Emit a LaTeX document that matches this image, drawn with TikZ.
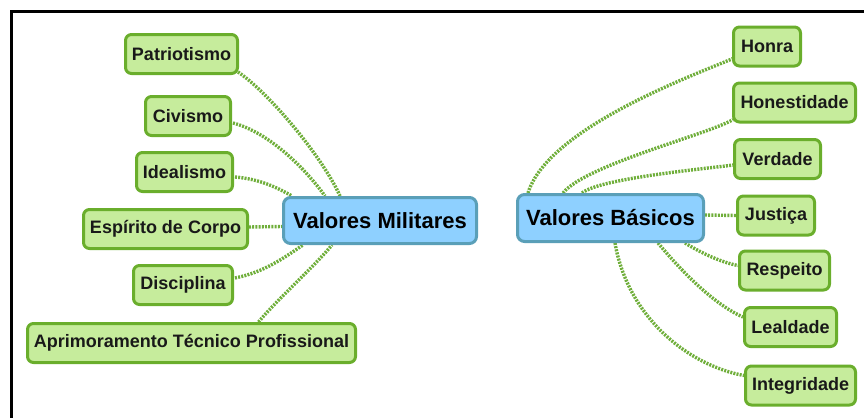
\documentclass[tikz,border=0pt]{standalone}
\usepackage{fontspec}
\setmainfont{Liberation Sans}
\usetikzlibrary{backgrounds}
\definecolor{leaffill}{HTML}{C6EC9C}
\definecolor{leafdraw}{HTML}{6AAE2C}
\definecolor{hubfill}{HTML}{8ED0FF}
\definecolor{hubdraw}{HTML}{5A9FB8}
\definecolor{linkcol}{HTML}{6FAE3A}
\begin{document}
\begin{tikzpicture}[x=1pt,y=-1pt,
  leaf/.style={draw=leafdraw,fill=leaffill,line width=3pt,rounded corners=6pt,
    minimum height=39pt,inner sep=0pt,font=\bfseries\fontsize{18}{20}\selectfont,text=black!90},
  hub/.style={draw=hubdraw,fill=hubfill,line width=3pt,rounded corners=7pt,
    inner sep=0pt,font=\bfseries\fontsize{22}{24}\selectfont,text=black},
  link/.style={draw=linkcol,line width=3.4pt,dash pattern=on 2pt off 1.2pt},
  frameline/.style={line width=3pt,draw=black}]
\useasboundingbox (0,0) rectangle (864,418);
\coordinate (f1) at (864,11.5);
\coordinate (f2) at (11.5,11.5);
\coordinate (f3) at (11.5,418);
\draw[frameline] (f1) -- (f2) -- (f3);

% hubs
\node[hub,minimum width=193pt,minimum height=46pt] (vm) at (380,220.5) {Valores Militares};
\node[hub,minimum width=186pt,minimum height=47pt] (vb) at (610.5,218) {Valores Básicos};

% left leaves
\node[leaf,minimum width=112pt] (pat) at (181.5,54) {Patriotismo};
\node[leaf,minimum width=85pt] (civ) at (188,116) {Civismo};
\node[leaf,minimum width=96pt] (ide) at (184.5,172) {Idealismo};
\node[leaf,minimum width=164pt] (esp) at (165.5,229) {Espírito de Corpo};
\node[leaf,minimum width=99pt] (dis) at (183,285) {Disciplina};
\node[leaf,minimum width=328pt] (apr) at (191.5,343) {Aprimoramento Técnico Profissional};
% right leaves
\node[leaf,minimum width=67pt] (hon) at (767,46.5) {Honra};
\node[leaf,minimum width=122pt] (hst) at (794.5,102.5) {Honestidade};
\node[leaf,minimum width=86pt] (ver) at (777.5,159) {Verdade};
\node[leaf,minimum width=77pt] (jus) at (776,215.5) {Justiça};
\node[leaf,minimum width=90pt] (res) at (784.5,270.5) {Respeito};
\node[leaf,minimum width=92pt] (lea) at (790.5,327) {Lealdade};
\node[leaf,minimum width=110pt] (int) at (800.5,385.5) {Integridade};

\begin{pgfonlayer}{background}
% left connectors
\draw[link] ([xshift=-1pt,yshift=3pt]pat.south east) .. controls +(30,20) and +(-18,-40) .. ([xshift=58pt]vm.north west);
\draw[link] ([xshift=1pt,yshift=-7pt]civ.east) .. controls +(38,10) and +(-18,-25) .. ([xshift=43pt]vm.north west);
\draw[link] ([xshift=1pt,yshift=-5pt]ide.east) .. controls +(25,2) and +(-14,-8) .. ([xshift=10pt]vm.north west);
\draw[link] ([yshift=2pt]esp.east) -- ([yshift=-6pt]vm.west);
\draw[link] ([xshift=1pt,yshift=7pt]dis.east) .. controls +(30,-6) and +(-18,12) .. ([xshift=21pt]vm.south west);
\draw[link] ([xshift=67pt]apr.north) .. controls +(22,-26) and +(-22,26) .. ([xshift=50pt]vm.south west);
% right connectors
\draw[link] ([xshift=12pt]vb.north west) .. controls +(20,-65) and +(-40,17) .. ([xshift=1pt,yshift=9pt]hon.south west);
\draw[link] ([xshift=47pt]vb.north west) .. controls +(22,-28) and +(-22,14) .. ([xshift=1pt,yshift=4pt]hst.south west);
\draw[link] ([xshift=66pt]vb.north west) .. controls +(18,-15) and +(-20,3) .. ([yshift=-6pt]ver.west);
\draw[link] ([yshift=3pt]vb.east) -- (jus.west);
\draw[link] ([xshift=-20pt]vb.south east) .. controls +(18,11) and +(-16,-3) .. ([yshift=5pt]res.west);
\draw[link] ([xshift=-47pt]vb.south east) .. controls +(25,30) and +(-28,-12) .. ([yshift=10pt]lea.west);
\draw[link] ([xshift=-90pt]vb.south east) .. controls +(13,75) and +(-55,-10) .. ([yshift=10pt]int.west);
\end{pgfonlayer}
\end{tikzpicture}
\end{document}
